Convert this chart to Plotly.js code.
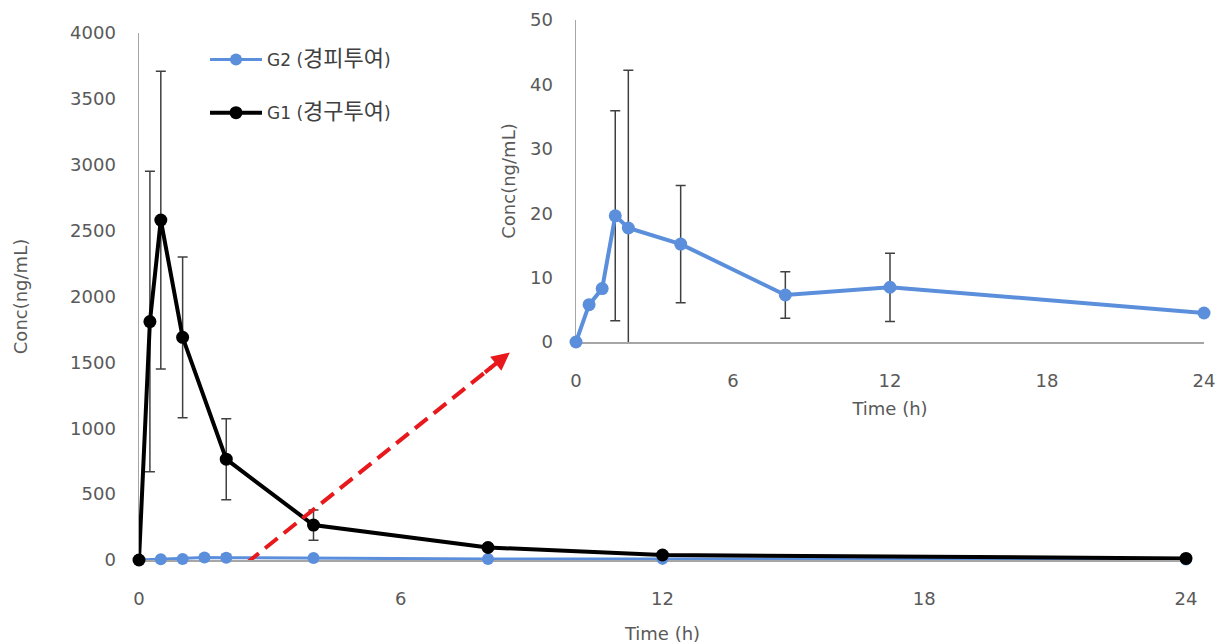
<!DOCTYPE html>
<html>
<head>
<meta charset="utf-8">
<script src="https://cdn.plot.ly/plotly-3.0.1.min.js"></script>
<style>html,body{margin:0;padding:0;background:#fff;}#chart{width:1221px;height:644px;}</style>
</head>
<body>
<div id="chart"></div>
<script>
// ---- data ----
const timeG1 = [0, 0.25, 0.5, 1, 2, 4, 8, 12, 24];
const concG1 = [0, 1810, 2580, 1690, 765, 265, 95, 38, 12];
const sdG1   = [0, 1140, 1130, 610, 308, 115, 20, 10, 3];

const timeG2 = [0, 0.5, 1, 1.5, 2, 4, 8, 12, 24];
const concG2 = [0, 5.8, 8.3, 19.6, 17.7, 15.2, 7.3, 8.5, 4.5];
const sdG2   = [0, 0.3, 0.4, 16.3, 24.5, 9.1, 3.6, 5.3, 0.5];

const nameG2 = 'G2 (<span style="font-size:22px">경피투여</span>)';
const nameG1 = 'G1 (<span style="font-size:22px">경구투여</span>)';
const xTicks = [0, 6, 12, 18, 24];
const yTitle = 'Conc(ng/mL)';
const xTitle = 'Time (h)';

// ---- styles ----
const BLUE = '#5B8FDB';
const FONT = 'DejaVu Sans, Noto Sans CJK KR, sans-serif';
const TICKC = '#595959';
const AXC = '#a6a6a6';
const ERRC = '#404040';

// arrow endpoints (main-axis coords)
const arrowTail = [2.46, -25];
const arrowTip = [8.5, 1575];

const errStyle = (arr) => ({type: 'data', array: arr, visible: true, color: ERRC, thickness: 1.5, width: 5});

const traces = [
  {x: timeG2, y: concG2, name: nameG2, type: 'scatter', mode: 'lines+markers', xaxis: 'x', yaxis: 'y',
   line: {color: BLUE, width: 3}, marker: {color: BLUE, size: 12}, cliponaxis: false, legendgroup: 'g2',
   error_y: errStyle(sdG2)},
  {x: timeG1, y: concG1, name: nameG1, type: 'scatter', mode: 'lines+markers', xaxis: 'x', yaxis: 'y',
   line: {color: '#000000', width: 4}, marker: {color: '#000000', size: 13}, cliponaxis: false, legendgroup: 'g1',
   error_y: errStyle(sdG1)},
  {x: timeG2, y: concG2, name: nameG2, type: 'scatter', mode: 'lines+markers', xaxis: 'x2', yaxis: 'y2',
   line: {color: BLUE, width: 4}, marker: {color: BLUE, size: 13}, cliponaxis: false, showlegend: false,
   error_y: errStyle(sdG2)}
];

const axBase = {
  showgrid: false, zeroline: false, showline: true, linecolor: AXC, linewidth: 1.5,
  ticks: '', tickfont: {family: FONT, size: 18, color: TICKC}, layer: 'below traces', fixedrange: true
};

const W = 1221, H = 644;
const layout = {
  width: W, height: H,
  margin: {l: 0, r: 0, t: 0, b: 0, pad: 0},
  paper_bgcolor: '#ffffff', plot_bgcolor: 'rgba(0,0,0,0)',
  showlegend: true,
  legend: {x: 205 / W, y: 1 - 42 / H, xanchor: 'left', yanchor: 'top', bgcolor: 'rgba(0,0,0,0)',
    font: {family: FONT, size: 17, color: '#404040'}, itemwidth: 52, tracegroupgap: 28, traceorder: 'grouped'},
  xaxis: Object.assign({}, axBase, {domain: [139 / W, 1186 / W], range: [0, 24], tickvals: xTicks,
    ticklabelstandoff: 22, anchor: 'y',
    title: {text: xTitle, font: {family: FONT, size: 18, color: TICKC}, standoff: 22}}),
  yaxis: Object.assign({}, axBase, {domain: [1 - 560 / H, 1 - 33 / H], range: [0, 4000], dtick: 500,
    ticklabelstandoff: 18, anchor: 'x',
    title: {text: yTitle, font: {family: FONT, size: 18, color: TICKC}, standoff: 38}}),
  xaxis2: Object.assign({}, axBase, {domain: [576 / W, 1204 / W], range: [0, 24], tickvals: xTicks,
    ticklabelstandoff: 22, anchor: 'y2',
    title: {text: xTitle, font: {family: FONT, size: 18, color: TICKC}, standoff: 12}}),
  yaxis2: Object.assign({}, axBase, {domain: [1 - 342 / H, 1 - 20 / H], range: [0, 50], dtick: 10,
    ticklabelstandoff: 18, anchor: 'x2',
    title: {text: yTitle, font: {family: FONT, size: 18, color: TICKC}, standoff: 9}}),
  shapes: [
    {type: 'line', xref: 'x', yref: 'y',
     x0: arrowTail[0], y0: arrowTail[1],
     x1: arrowTail[0] + (arrowTip[0] - arrowTail[0]) * 0.93, y1: arrowTail[1] + (arrowTip[1] - arrowTail[1]) * 0.93,
     line: {color: '#e8191c', width: 4, dash: '16px,8px'}}
  ],
  annotations: [
    {xref: 'x', yref: 'y', axref: 'x', ayref: 'y', x: arrowTip[0], y: arrowTip[1],
     ax: arrowTail[0] + (arrowTip[0] - arrowTail[0]) * 0.9, ay: arrowTail[1] + (arrowTip[1] - arrowTail[1]) * 0.9,
     showarrow: true, arrowhead: 2, arrowsize: 0.9, arrowwidth: 4, arrowcolor: '#e8191c', text: ''}
  ]
};

Plotly.newPlot('chart', traces, layout, {displayModeBar: false, staticPlot: true});
</script>
</body>
</html>
